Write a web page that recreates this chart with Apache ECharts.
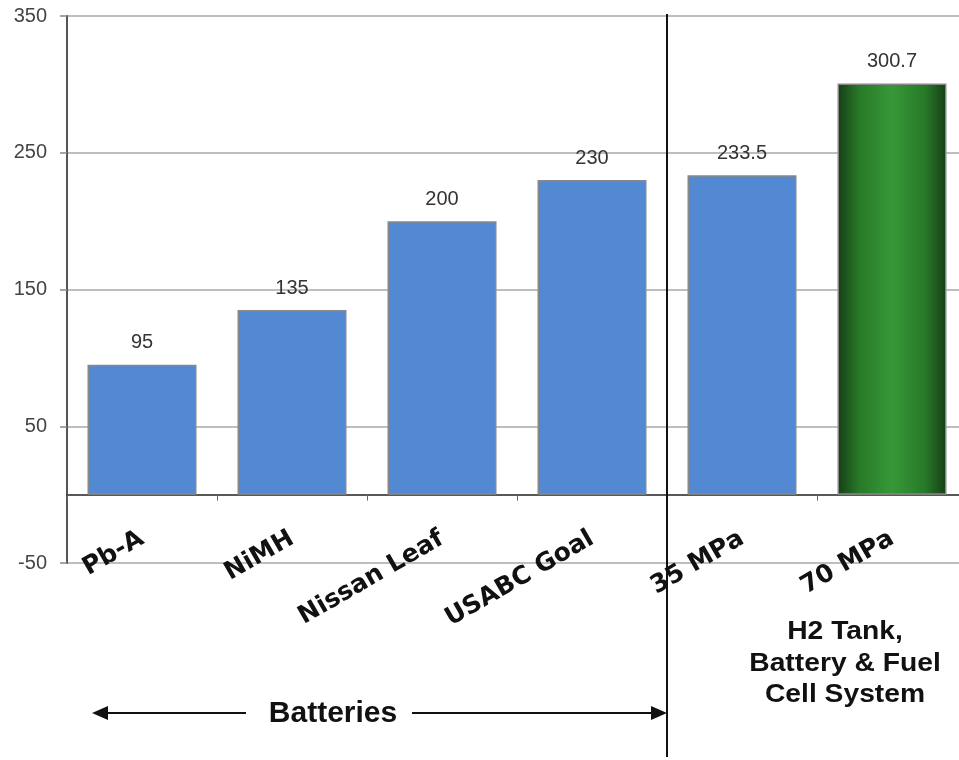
<!DOCTYPE html>
<html>
<head>
<meta charset="utf-8">
<script src="https://cdn.jsdelivr.net/npm/echarts@6/dist/echarts.min.js"></script>
<style>
  html, body { margin: 0; padding: 0; background: #fff; overflow: hidden; }
  #wrap { width: 959px; height: 760px; overflow: hidden; }
  /* the plot runs slightly past the right edge of the page */
  #chart { width: 967px; height: 760px; }
</style>
</head>
<body>
<div id="wrap"><div id="chart"></div></div>
<script>
// Categories and values
const categories = ['Pb-A', 'NiMH', 'Nissan Leaf', 'USABC Goal', '35 MPa', '70 MPa'];
const values = [95, 135, 200, 230, 233.5, 300.7];
const highlighted = ['70 MPa'];

// Value axis settings
const yMin = -50;
const yMax = 350;
const yStep = 100;

const FONT = 'Liberation Sans, Arial, sans-serif';
const WIDE_FONT = 'DejaVu Sans, Liberation Sans, sans-serif';

const blueFill = '#5389d3';
const greenFill = new echarts.graphic.LinearGradient(0, 0, 1, 0, [
  { offset: 0, color: '#163d16' },
  { offset: 0.2, color: '#287a28' },
  { offset: 0.5, color: '#379838' },
  { offset: 0.8, color: '#287a28' },
  { offset: 1, color: '#163d16' }
]);

const barData = categories.map((c, i) => ({
  value: values[i],
  itemStyle: { color: highlighted.includes(c) ? greenFill : blueFill }
}));

const chart = echarts.init(document.getElementById('chart'), null, { renderer: 'canvas' });

chart.setOption({
  animation: false,
  backgroundColor: '#fff',
  grid: { left: 67, top: 16, right: 0, bottom: 197, containLabel: false },
  xAxis: {
    type: 'category',
    data: categories,
    axisLine: { onZero: true, lineStyle: { color: '#222', width: 1.5 } },
    axisTick: { show: true, alignWithLabel: false, length: 6, lineStyle: { color: '#666', width: 1 } },
    axisLabel: {
      rotate: 30,
      margin: -26,
      interval: 0,
      color: '#111',
      fontFamily: WIDE_FONT,
      fontWeight: 'bold',
      fontSize: 25
    }
  },
  yAxis: {
    type: 'value',
    min: yMin,
    max: yMax,
    interval: yStep,
    axisLine: { show: true, lineStyle: { color: '#555', width: 2 } },
    axisTick: { show: true, length: 7, lineStyle: { color: '#888', width: 1.5 } },
    axisLabel: {
      margin: 20,
      color: '#444',
      fontFamily: FONT,
      fontSize: 20
    },
    splitLine: { show: true, lineStyle: { color: '#a8a8a8', width: 1.5 } }
  },
  series: [{
    type: 'bar',
    data: barData,
    barWidth: 109,
    itemStyle: { borderColor: '#888', borderWidth: 1.5 },
    label: {
      show: true,
      position: 'top',
      distance: 12,
      color: '#333',
      fontFamily: FONT,
      fontSize: 20,
      formatter: p => String(p.value)
    }
  }]
});

// Section divider, "Batteries" span arrow and the fuel-cell group caption,
// placed from the axis scales.
function drawAnnotations() {
  const xOf = i => chart.convertToPixel({ xAxisIndex: 0 }, categories[i]);
  const yTop = chart.convertToPixel({ yAxisIndex: 0 }, yMax);
  const band = xOf(1) - xOf(0);
  const divX = (xOf(3) + xOf(4)) / 2;
  const arrowY = 713;
  const arrowLeft = xOf(0) - band / 2 + 25;
  const battCx = 333;
  const capCx = (xOf(4) + xOf(5)) / 2 + 28;

  chart.setOption({
    graphic: [
      { type: 'line', shape: { x1: divX, y1: yTop - 2, x2: divX, y2: 757 },
        style: { stroke: '#111', lineWidth: 2 }, z: 100 },
      { type: 'line', shape: { x1: arrowLeft + 12, y1: arrowY, x2: battCx - 87, y2: arrowY },
        style: { stroke: '#111', lineWidth: 2 }, z: 100 },
      { type: 'line', shape: { x1: battCx + 79, y1: arrowY, x2: divX - 10, y2: arrowY },
        style: { stroke: '#111', lineWidth: 2 }, z: 100 },
      { type: 'polygon', shape: { points: [[arrowLeft, arrowY], [arrowLeft + 16, arrowY - 7], [arrowLeft + 16, arrowY + 7]] },
        style: { fill: '#111' }, z: 100 },
      { type: 'polygon', shape: { points: [[divX, arrowY], [divX - 16, arrowY - 7], [divX - 16, arrowY + 7]] },
        style: { fill: '#111' }, z: 100 },
      { type: 'text', x: battCx, y: arrowY + 1,
        style: { text: 'Batteries', fill: '#111', font: 'bold 30px ' + FONT, align: 'center', verticalAlign: 'middle' }, z: 100 },
      { type: 'text', x: capCx, y: 664, scaleX: 1.13, originX: 0, originY: 0,
        style: { text: 'H2 Tank,\nBattery & Fuel\nCell System', fill: '#111', font: 'bold 25px ' + FONT,
                 align: 'center', verticalAlign: 'middle', lineHeight: 31.5 }, z: 100 }
    ]
  });
}
drawAnnotations();
</script>
</body>
</html>
